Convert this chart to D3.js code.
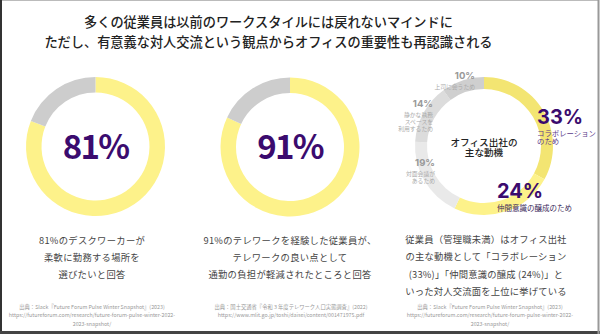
<!DOCTYPE html>
<html><head><meta charset="utf-8">
<script src="https://cdn.jsdelivr.net/npm/d3@7"></script>
<style>
html,body{margin:0;padding:0;background:#fff;}
svg{display:block;}
text{font-family:"Noto Sans CJK JP","Noto Sans",sans-serif;}
</style></head><body>
<svg id="c" width="600" height="334"></svg>
<script>
const titleLines = ["多くの従業員は以前のワークスタイルには戻れないマインドに","ただし、有意義な対人交流という観点からオフィスの重要性も再認識される"];
const donutLabels = ["81%","91%"];
const donutShares = [81, 82];
const motiveNames = ["コラボレーションのため","仲間意識の醸成のため","対面会議があるため","静かな執務スペースを利用するため","上司に会うため"];
const motiveValues = [33, 24, 19, 14, 10];
const captions = [
  ["81%のデスクワーカーが","柔軟に勤務する場所を","選びたいと回答"],
  ["91%のテレワークを経験した従業員が、","テレワークの良い点として","通勤の負担が軽減されたところと回答"],
  ["従業員（管理職未満）はオフィス出社","の主な動機として「コラボレーション","(33%)」「仲間意識の醸成 (24%)」と","いった対人交流面を上位に挙げている"]
];
const sources = [
  ["出典：Slack『Future Forum Pulse Winter Snapshot』(2023)","https://futureforum.com/research/future-forum-pulse-winter-2022-","2023-snapshot/"],
  ["出典：国土交通省『令和３年度テレワーク人口実態調査』(2022)","https://www.mlit.go.jp/toshi/daisei/content/001471975.pdf"],
  ["出典：Slack『Future Forum Pulse Winter Snapshot』(2023)","https://futureforum.com/research/future-forum-pulse-winter-2022-","2023-snapshot/"]
];

const svg = d3.select("#c");
const purple = "#3b0b6e";
const yellow = "#fdf28a";
const grey = "#cdcdcd";

// frame
svg.append("rect").attr("x",0.5).attr("y",0.5).attr("width",598).attr("height",332)
  .attr("fill","none").attr("stroke","#bbb").attr("stroke-width",1);
svg.append("line").attr("x1",1).attr("x2",1).attr("y1",0).attr("y2",334).attr("stroke","#333").attr("stroke-width",2);
svg.append("line").attr("x1",0).attr("x2",600).attr("y1",332.5).attr("y2",332.5).attr("stroke","#444").attr("stroke-width",3);
svg.append("line").attr("x1",598.5).attr("x2",598.5).attr("y1",0).attr("y2",334).attr("stroke","#999").attr("stroke-width",2);

// helper: multi-line text as one element
function multi(x, y, lines, step, opts) {
  const t = svg.append("text").attr("x",x).attr("y",y)
    .attr("text-anchor",opts.anchor||"middle").attr("font-size",opts.size)
    .attr("fill",opts.fill||"#444");
  if (opts.weight) t.attr("font-weight",opts.weight);
  if (opts.ls) t.attr("letter-spacing",opts.ls);
  lines.forEach((l,k)=>{
    t.append("tspan").attr("x",x).attr("dy",k===0?0:step).text(l);
  });
  return t;
}

// title
multi(268.5, 27, titleLines, 20, {size:13.2, weight:500, fill:"#222"});

const pie = d3.pie().sort(null).value(d=>d);
const centers = [[95.5,146.5],[290,147]];
const arc1 = d3.arc().innerRadius(54).outerRadius(69.5);
donutShares.forEach((v,i)=>{
  const g = svg.append("g").attr("transform",`translate(${centers[i][0]},${centers[i][1]})`);
  g.selectAll("path").data(pie([v,100-v])).join("path")
    .attr("d",arc1).attr("fill",(d,j)=>j===0?yellow:grey);
  g.append("text").attr("y",12).attr("text-anchor","middle")
    .attr("font-size",33).attr("font-weight",700).attr("fill",purple)
    .attr("font-family","Inter, 'Noto Sans', sans-serif").attr("letter-spacing",-1.8)
    .text(donutLabels[i]);
});

// motives donut
const c3 = [484,146];
const motiveColors = ["#f3e572","#fdf28a","#e9e9e9","#dcdcdc","#cfcfcf"];
const arc3 = d3.arc().innerRadius(57).outerRadius(69);
const g3 = svg.append("g").attr("transform",`translate(${c3[0]},${c3[1]})`);
g3.selectAll("path").data(pie(motiveValues)).join("path")
  .attr("d",arc3).attr("fill",(d,i)=>motiveColors[i]);
multi(c3[0], c3[1]-0.5, ["オフィス出社の","主な動機"], 10.5, {size:9.6, weight:500, fill:"#222"});

// motive labels: value + name lines in one text element
const fmt = v => v + "%";
const motiveLabelSpec = [
  {x:537, y:123.5, anchor:"start", big:20, col:purple, lines:["コラボレーション","のため"], gap:12.5, step:8, sub:"#5a3a8a", subSize:7.4},
  {x:497, y:197.5, anchor:"start", big:20, col:purple, lines:["仲間意識の醸成のため"], gap:13, step:8, sub:"#3b2a5a", subSize:7.5},
  {x:435, y:165.5, anchor:"end", big:9.5, col:"#999", lines:["対面会議が","あるため"], gap:10, step:7.3, sub:"#aaa", subSize:5.8},
  {x:433, y:106.5, anchor:"end", big:9.5, col:"#999", lines:["静かな執務","スペースを","利用するため"], gap:10, step:7.4, sub:"#aaa", subSize:5.8},
  {x:475, y:78.5, anchor:"end", big:9.5, col:"#999", lines:["上司に会うため"], gap:10.5, step:7.4, sub:"#aaa", subSize:5.8}
];
motiveValues.forEach((v,i)=>{
  const s = motiveLabelSpec[i];
  const t = svg.append("text").attr("x",s.x).attr("y",s.y).attr("text-anchor",s.anchor);
  t.append("tspan").attr("x",s.x).attr("font-size",s.big).attr("font-weight",700).attr("fill",s.col)
    .attr("font-family","Inter, 'Noto Sans', sans-serif").text(fmt(v));
  s.lines.forEach((l,k)=>{
    t.append("tspan").attr("x",s.x).attr("dy",k===0?s.gap:s.step)
      .attr("font-size",s.subSize).attr("fill",s.sub).text(l);
  });
});

// captions
const capX = [92, 290, 486];
captions.forEach((lines,i)=>{
  multi(capX[i], i===2?243:244, lines, i===2?17.4:16.8,
    {size:9.3, ls:i===2?0.2:0.3, fill:"#444"});
});
const srcX = [92, 291, 490];
sources.forEach((lines,i)=>{
  multi(srcX[i], 309, lines, 8.3, {size:5.3, fill:"#999"});
});
</script></body></html>
